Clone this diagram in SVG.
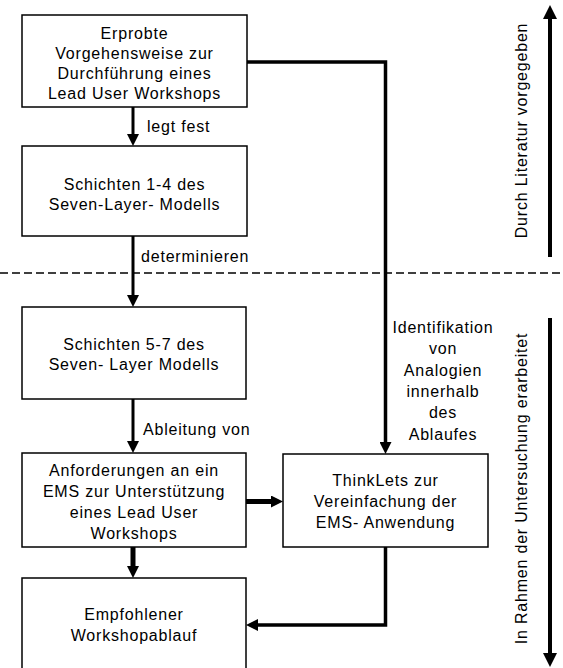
<svg xmlns="http://www.w3.org/2000/svg" width="563" height="668" viewBox="0 0 563 668">
<style>
  .box { fill: #ffffff; stroke: #000000; stroke-width: 1.5; }
  text { font-family: "Liberation Sans", Arial, sans-serif; font-size: 16px; letter-spacing: 0.8px; fill: #000000; }
  .c { text-anchor: middle; }
  .s { text-anchor: start; }
  .ln { fill: none; stroke: #000000; stroke-linejoin: miter; }
  .dash { fill: none; stroke: #000000; stroke-width: 1.6; stroke-dasharray: 8 4; }
</style>
<defs>
  <marker id="arr" viewBox="0 0 12 12" markerUnits="userSpaceOnUse" markerWidth="12" markerHeight="12" refX="2" refY="6" orient="auto">
    <path d="M0,0 L12,6 L0,12 z" fill="#000000"/>
  </marker>
  <marker id="arrBig" viewBox="0 0 14 14" markerUnits="userSpaceOnUse" markerWidth="14" markerHeight="14" refX="2" refY="7" orient="auto">
    <path d="M0,0 L14,7 L0,14 z" fill="#000000"/>
  </marker>
</defs>

<line class="dash" x1="0" y1="273" x2="563" y2="273"/>

<g id="connectors">
  <path class="ln" d="M133,107 V136" stroke-width="3" marker-end="url(#arr)"/>
  <path class="ln" d="M133,236 V297" stroke-width="3" marker-end="url(#arr)"/>
  <path class="ln" d="M133,399 V443" stroke-width="3" marker-end="url(#arr)"/>
  <path class="ln" d="M133,547 V568" stroke-width="5" marker-end="url(#arr)"/>
  <path class="ln" d="M246,501.5 H273" stroke-width="5" marker-end="url(#arr)"/>
  <path class="ln" d="M247,62 H385.5 V444" stroke-width="3.5" marker-end="url(#arr)"/>
  <path class="ln" d="M385.5,547 V625 H256" stroke-width="3.5" marker-end="url(#arr)"/>
  <path class="ln" d="M550,257 V17" stroke-width="4" marker-end="url(#arrBig)"/>
  <path class="ln" d="M550,318 V655" stroke-width="4" marker-end="url(#arrBig)"/>
</g>

<g id="labels">
  <text class="s" x="147" y="132">legt fest</text>
  <text class="s" x="141" y="262">determinieren</text>
  <text class="s" x="143" y="435">Ableitung von</text>
  <text class="c" x="443" y="333">Identifikation</text>
  <text class="c" x="443" y="354">von</text>
  <text class="c" x="443" y="375.5">Analogien</text>
  <text class="c" x="443" y="397">innerhalb</text>
  <text class="c" x="443" y="418">des</text>
  <text class="c" x="443" y="439.5">Ablaufes</text>
  <text class="c" transform="translate(527,130.5) rotate(-90)">Durch Literatur vorgegeben</text>
  <text class="c" transform="translate(527,488.5) rotate(-90)">In Rahmen der Untersuchung erarbeitet</text>
</g>

<g id="n1">
  <rect class="box" x="22" y="15" width="225" height="92"/>
  <text class="c" x="134.5" y="38.5">Erprobte</text>
  <text class="c" x="134.5" y="58.5">Vorgehensweise zur</text>
  <text class="c" x="134.5" y="78.5">Durchführung eines</text>
  <text class="c" x="134.5" y="98.5">Lead User Workshops</text>
</g>
<g id="n2">
  <rect class="box" x="22" y="146" width="225" height="90"/>
  <text class="c" x="134.5" y="189.5">Schichten 1-4 des</text>
  <text class="c" x="134.5" y="209.5">Seven-Layer- Modells</text>
</g>
<g id="n3">
  <rect class="box" x="22" y="307" width="224" height="92"/>
  <text class="c" x="134" y="349.5">Schichten 5-7 des</text>
  <text class="c" x="134" y="370">Seven- Layer Modells</text>
</g>
<g id="n4">
  <rect class="box" x="22" y="453" width="224" height="94"/>
  <text class="c" x="134" y="476">Anforderungen an ein</text>
  <text class="c" x="134" y="497">EMS zur Unterstützung</text>
  <text class="c" x="134" y="518">eines Lead User</text>
  <text class="c" x="134" y="539">Workshops</text>
</g>
<g id="n5">
  <rect class="box" x="22" y="578" width="224" height="100"/>
  <text class="c" x="134" y="620">Empfohlener</text>
  <text class="c" x="134" y="641">Workshopablauf</text>
</g>
<g id="n6">
  <rect class="box" x="283" y="454" width="205" height="93"/>
  <text class="c" x="385.5" y="486">ThinkLets zur</text>
  <text class="c" x="385.5" y="507">Vereinfachung der</text>
  <text class="c" x="385.5" y="528">EMS- Anwendung</text>
</g>
</svg>
